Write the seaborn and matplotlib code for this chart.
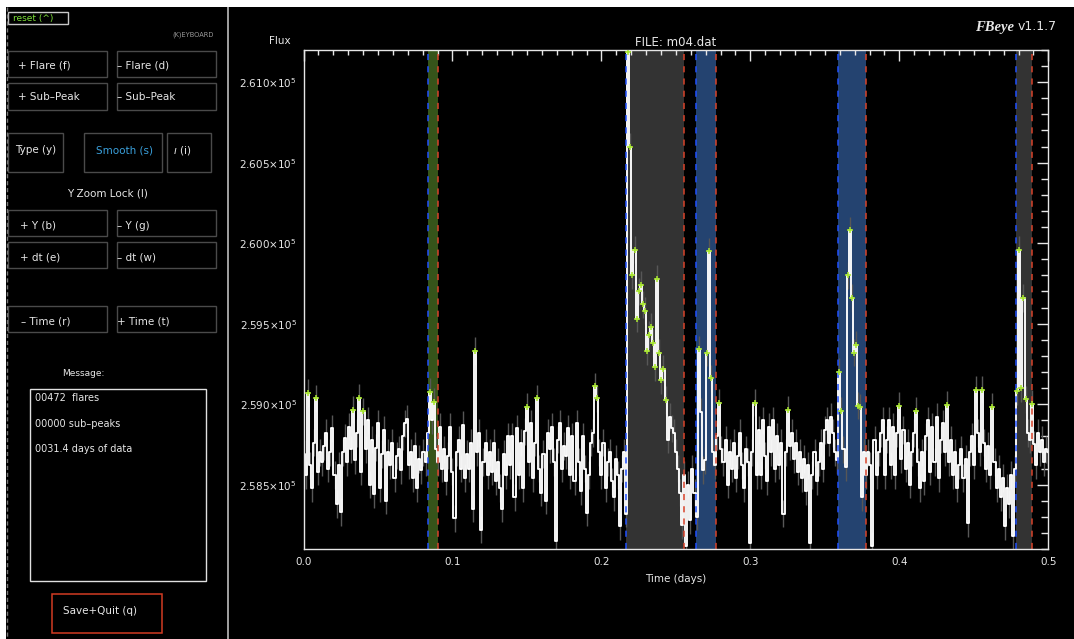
import numpy as np
import matplotlib
matplotlib.use("Agg")
import matplotlib.pyplot as plt
from matplotlib.patches import Rectangle
from matplotlib.lines import Line2D
from matplotlib.ticker import MultipleLocator, FuncFormatter
import seaborn as sns

# ---------------- data ----------------
cadence_days = 0.5 / 360
flux = [
    258690, 258560, 259070, 258620, 258480, 258760, 259035, 258580, 258700, 258640,
    258740, 258820, 258600, 258700, 258850, 258560, 258380, 258620, 258330, 258700,
    258790, 258640, 258860, 258720, 258965, 258650, 258820, 259040, 258580, 258955,
    258720, 258900, 258500, 258780, 258440, 258730, 258880, 258480, 258690, 258840,
    258400, 258700, 258620, 258760, 258540, 258680, 258720, 258590, 258800, 258880,
    258910, 258620, 258700, 258540, 258740, 258480, 258660, 258590, 258700, 258640,
    258820, 259075, 258900, 259015, 258720, 258640, 258860, 258600, 258720, 258520,
    258680, 258860, 258580, 258290, 258700, 258780, 258600, 258870, 258540, 258690,
    258600, 258760, 258350, 259330, 258700, 258820, 258220, 258640, 258760, 258560,
    258700, 258580, 258760, 258520, 258640, 258480, 258350, 258690, 258560, 258800,
    258620, 258800, 258420, 258850, 258560, 258760, 258480, 258830, 258985, 258640,
    258880, 258540, 258760, 259035, 258600, 258450, 258690, 258400, 258820, 258720,
    258860, 258640, 258150, 258780, 258880, 258600, 258740, 258680, 258850, 258560,
    258800, 258520, 258880, 258640, 258460, 258800, 258600, 258325, 258560, 258760,
    258820, 259110, 259035, 258700, 258560, 258760, 258480, 258640, 258700, 258520,
    258420, 258660, 258560, 258240, 258600, 258700, 258320, 261190, 260600, 259800,
    259960, 259530, 259700, 259740, 259620, 259580, 259330, 259430, 259480, 259380,
    259230, 259780, 259320, 259150, 259220, 259025, 258780, 258920, 258850, 258820,
    258700, 258600, 258450, 258250, 258560, 258120, 258500, 258280, 258600, 258450,
    258300, 259340, 258950, 258590, 258650, 259320, 259950, 259160, 258700, 258620,
    258800, 259010, 258720, 258640, 258780, 258500, 258700, 258600, 258760, 258540,
    258680, 258820, 258620, 258480, 258720, 258640, 258140, 258700, 259010, 258560,
    258840, 258560, 258900, 258680, 258520, 258860, 258700, 258900, 258600, 258800,
    258620, 258760, 258320, 258700, 258965, 258740, 258820, 258660, 258760, 258580,
    258700, 258540, 258660, 258460, 258620, 258140, 258560, 258700, 258520, 258640,
    258760, 258600, 258840, 258900, 258760, 258920, 258820, 258700, 258650, 259200,
    258960, 258720, 258610, 259800, 260080, 259660, 259320, 259370, 258990, 258980,
    258420, 258700, 258560, 258700, 258620, 258120, 258780, 258560, 258700, 258820,
    258900, 258560, 258780, 258900, 258620, 258860, 258560, 258820, 258990, 258660,
    258840, 258600, 258760, 258500, 258700, 258820, 258960, 258640, 258480, 258700,
    258520, 258800, 258900, 258580, 258860, 258640, 258920, 258540, 258780, 258880,
    258700, 258995, 258640, 258780, 258560, 258700, 258480, 258620, 258720, 258540,
    258660, 258260, 258700, 258800, 258620, 259090, 258820, 258700, 259090, 258760,
    258600, 258740, 258560, 258985, 258640, 258480, 258600, 258420, 258540, 258240,
    258480, 258380, 258560, 258180, 258600, 259080, 259960, 259100, 259660, 259030,
    258820, 258780, 259000, 258750, 258620, 258820, 258700, 258780, 258640, 258720,
    258700,
]
flux_err = 85
marker_threshold = 258950

region_start = [0.0838, 0.2165, 0.2635, 0.3586, 0.4781]
region_end = [0.0901, 0.2556, 0.2769, 0.3776, 0.4893]
region_color = ["#36541a", "#333333", "#244370", "#244370", "#333333"]

x_ticks = [0.0, 0.1, 0.2, 0.3, 0.4, 0.5]
y_ticks = [258500, 259000, 259500, 260000, 260500, 261000]
x_lim = (0.0, 0.5)
y_lim = (258100, 261200)

# ---------------- figure ----------------
W, H = 1074, 639
sns.set_theme(style="dark")
plt.rcParams["font.family"] = ["DejaVu Sans"]
fig = plt.figure(figsize=(W / 100, H / 100), dpi=100, facecolor="black")

ax = fig.add_axes([303.5 / W, 1 - 549 / H, 744.8 / W, 499 / H])
ax.set_facecolor("black")

df_t = np.arange(len(flux)) * cadence_days
df_f = np.array(flux, dtype=float)

for s, e, c in zip(region_start, region_end, region_color):
    ax.axvspan(s, e, color=c, lw=0, zorder=0)

ax.vlines(df_t, df_f - flux_err, df_f + flux_err, color="#575757", lw=1.0, zorder=1)
sns.lineplot(x=df_t, y=df_f, ax=ax, color="white", lw=1.35,
             drawstyle="steps-mid", zorder=2, estimator=None)
mask = df_f > marker_threshold
sns.scatterplot(x=df_t[mask], y=df_f[mask], ax=ax, marker="+", s=22,
                color="#a8e82c", linewidth=1.1, zorder=3)

for s, e in zip(region_start, region_end):
    ax.axvline(s, color="#2050ff", ls=(0, (4, 4)), lw=1.1, zorder=2.5)
    ax.axvline(e, color="#d8432b", ls=(0, (4, 4)), lw=1.1, zorder=2.5)

ax.set_xlim(*x_lim)
ax.set_ylim(*y_lim)
ax.set_xticks(x_ticks)
ax.set_yticks(y_ticks)
ax.xaxis.set_minor_locator(MultipleLocator(0.01))
ax.yaxis.set_minor_locator(MultipleLocator(100))
ax.xaxis.set_major_formatter(FuncFormatter(lambda v, p: f"{v:.1f}"))
ax.yaxis.set_major_formatter(FuncFormatter(lambda v, p: f"{v/1e5:.3f}×10$^{{5}}$"))
ax.tick_params(axis="both", which="both", direction="in", colors="#e6e6e6",
               labelcolor="#e6e6e6", top=True, right=True, labelsize=7.5, width=1)
ax.tick_params(axis="x", which="major", length=8, pad=6)
ax.tick_params(axis="x", which="minor", length=3.3)
ax.tick_params(axis="y", which="major", length=8, pad=5)
ax.tick_params(axis="y", which="minor", length=5.4)
for sp in ax.spines.values():
    sp.set_color("#e6e6e6")
    sp.set_linewidth(1)
ax.grid(False)
ax.set_xlabel("Time (days)", color="#e6e6e6", fontsize=7.5, labelpad=5)
ax.set_ylabel("")
ax.set_title("FILE: m04.dat", color="#e6e6e6", fontsize=8.5, pad=3)

# ---------------- GUI panel ----------------
def box(x0, y0, x1, y1, ec, lw=1.0, fc="none", z=1):
    fig.add_artist(Rectangle((x0 / W, 1 - y1 / H), (x1 - x0) / W, (y1 - y0) / H,
                             transform=fig.transFigure, fc=fc, ec=ec, lw=lw, zorder=z))

def txt(x, y, s, color="#e6e6e6", size=7.5, ha="left", **kw):
    fig.text(x / W, 1 - y / H, s, color=color, fontsize=size, ha=ha, va="center", **kw)

def vline(x, y0, y1, color, lw=1, ls="-"):
    fig.add_artist(Line2D([x / W, x / W], [1 - y0 / H, 1 - y1 / H], transform=fig.transFigure,
                          color=color, lw=lw, ls=ls))

# window frame
box(0, 0, W, 7, ec="none", fc="white", z=5)
box(0, 0, 6, H, ec="none", fc="white", z=5)
vline(7, 7, H, "#777777", lw=1, ls=(0, (3, 2)))
vline(228, 7, H, "#bdbdbd", lw=1.2)

bc = "#4a4a4a"
box(8, 12, 68, 24, ec="#c8c8c8", lw=1)
txt(13, 18, "reset (^)", color="#7ee03a", size=6.5)
txt(214, 35, "(K)EYBOARD", color="#9a9a9a", size=4.8, ha="right")

box(8, 51, 107, 77, ec=bc); txt(18, 65, "+ Flare (f)")
box(117, 51, 216, 77, ec=bc); txt(117, 65, "– Flare (d)")
box(8, 83, 107, 110, ec=bc); txt(18, 97, "+ Sub–Peak")
box(117, 83, 216, 110, ec=bc); txt(117, 97, "– Sub–Peak")

box(8, 133, 63, 172, ec=bc); txt(15, 150, "Type (y)")
box(84, 133, 162, 172, ec=bc); txt(96, 150, "Smooth (s)", color="#3aa0dc")
box(167, 133, 211, 172, ec=bc); txt(173, 150, "$\\imath$ (i)")

txt(107, 194, "Y Zoom Lock (l)", ha="center")
box(8, 210, 107, 236, ec=bc); txt(20, 226, "+ Y (b)")
box(117, 210, 216, 236, ec=bc); txt(117, 226, "– Y (g)")
box(8, 242, 107, 268, ec=bc); txt(20, 257, "+ dt (e)")
box(117, 242, 216, 268, ec=bc); txt(117, 257, "– dt (w)")

box(8, 306, 107, 332, ec=bc); txt(21, 322, "– Time (r)")
box(117, 306, 216, 332, ec=bc); txt(117, 322, "+ Time (t)")

txt(83, 374, "Message:", size=6.5, ha="center")
box(30, 389, 206, 581, ec="#e0e0e0")
txt(35, 398, "00472  flares", size=7)
txt(35, 424, "00000 sub–peaks", size=7)
txt(35, 449, "0031.4 days of data", size=7)

box(52, 594, 162, 633, ec="#d23b22", lw=1.1)
txt(63, 611, "Save+Quit (q)")

txt(280, 41, "Flux", size=7.5, ha="center")
fig.text(1014 / W, 1 - 27 / H, "FBeye", color="#e6e6e6", fontsize=10.5, ha="right",
         va="center", family="Liberation Serif", weight="bold", style="italic")
fig.text(1018 / W, 1 - 27 / H, "v1.1.7", color="#e6e6e6", fontsize=9, ha="left", va="center")

fig.savefig("out.png", dpi=100, facecolor="black")
